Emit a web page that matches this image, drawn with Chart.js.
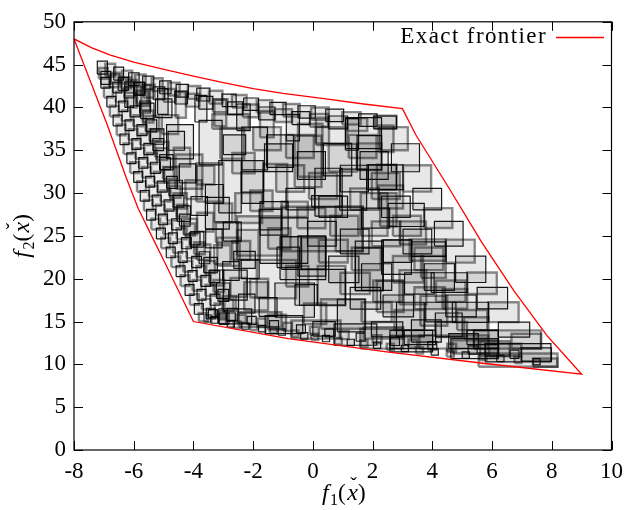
<!DOCTYPE html>
<html>
<head>
<meta charset="utf-8">
<script src="https://cdn.jsdelivr.net/npm/chart.js@4.4.0/dist/chart.umd.min.js"></script>
<style>
  html, body { margin: 0; padding: 0; background: #fff; }
</style>
</head>
<body>
<canvas id="frontierChart" width="631" height="510"></canvas>
<script>
const SERIF = "'Liberation Serif'";

const xTicks = [-8, -6, -4, -2, 0, 2, 4, 6, 8, 10];
const yTicks = [0, 5, 10, 15, 20, 25, 30, 35, 40, 45, 50];

// exact frontier, walked round: left edge, bottom, right edge, top
const frontierX = [-8, -6.9, -6.25, -5.85, -5.4, -4.96, -4, -0.83, 2.47, 5.77, 9,
  7.84, 6.74, 5.64, 4.54, 3.44, 3, 1.7, 0.43, -1.0, -2.0, -3.0, -4.0, -5.13, -6.0, -6.78, -7.4, -8];
const frontierY = [48, 38.1, 31.8, 28.2, 25.0, 21.9, 15, 13.0, 11.46, 10.1, 8.85,
  13.36, 18.55, 24.33, 30.68, 36.84, 39.85, 40.4, 41.0, 41.65, 42.2, 42.9, 43.65, 44.55, 45.3, 46.1, 46.95, 48];

// boxes as [xmin, xmax, ymin, ymax]
const topRowBoxes = [
  [-7.22,-6.88,43.9,45.4], [-6.95,-6.62,43.6,45.1], [-6.67,-6.34,43.2,44.7], [-6.39,-6.05,42.8,44.3],
  [-6.17,-5.82,42.55,44.05], [-5.95,-5.6,42.35,43.85], [-5.7,-5.33,42.15,43.65], [-5.4,-5.03,41.9,43.4],
  [-5.13,-4.75,41.6,43.1], [-4.85,-4.46,41.4,42.9], [-4.58,-4.17,41.2,42.7], [-4.19,-3.77,41.0,42.5],
  [-3.89,-3.45,40.75,42.25], [-3.48,-3.03,40.45,41.95], [-3.04,-2.57,40.1,41.55], [-2.71,-2.22,40.0,41.45],
  [-2.32,-1.82,39.65,41.1], [-1.88,-1.36,39.4,40.85], [-1.44,-0.9,39.15,40.6], [-1.0,-0.44,38.95,40.4],
  [-0.5,0.08,38.75,40.2], [-0.06,0.53,38.55,40.0], [0.43,1.03,38.35,39.8], [0.98,1.6,38.0,39.45],
  [1.53,2.15,37.8,39.25], [2.08,2.8,37.55,39.05]
];

const secondRowBoxes = [
  [-7.1,-6.77,42.7,44.2], [-6.82,-6.48,42.35,43.85], [-6.52,-6.18,42.0,43.5], [-6.25,-5.9,41.7,43.2],
  [-5.98,-5.62,41.4,42.9], [-5.68,-5.3,41.15,42.65], [-5.35,-4.96,40.9,42.4], [-5.0,-4.6,40.65,42.15],
  [-4.62,-4.2,40.4,41.9], [-4.25,-3.8,40.1,41.6], [-3.82,-3.35,39.8,41.3], [-3.35,-2.86,39.45,40.95],
  [-2.86,-2.35,39.15,40.65], [-2.35,-1.82,38.85,40.35], [-1.82,-1.27,38.55,40.05], [-1.27,-0.7,38.3,39.8],
  [-0.7,-0.1,38.0,39.5], [-0.1,0.52,37.75,39.25], [0.52,1.16,37.5,39.0], [1.16,1.82,37.25,38.75]
];

const thirdRowBoxes = [
  [-6.3,-6.0,40.0,43.0], [-5.75,-5.45,39.6,42.6], [-5.2,-4.85,39.2,42.2], [-4.6,-4.25,38.8,41.8],
  [-3.95,-3.55,38.3,41.4], [-3.3,-2.9,37.8,40.9], [-2.55,-2.1,37.3,40.4], [-1.77,-1.31,36.5,39.6],
  [-0.89,-0.45,36.1,39.2], [0.1,0.54,35.8,38.8], [1.09,1.53,35.0,38.7], [2.2,2.7,34.8,37.9]
];

const leftColumnA = [
  [-7.17,-6.87,43.35,44.6], [-7.1,-6.8,42.25,43.5], [-7.0,-6.7,41.15,42.4], [-6.9,-6.6,40.05,41.3],
  [-6.8,-6.5,38.95,40.2], [-6.69,-6.39,37.85,39.1], [-6.57,-6.27,36.75,38.0], [-6.46,-6.16,35.65,36.9],
  [-6.34,-6.04,34.55,35.8], [-6.23,-5.93,33.45,34.7], [-6.12,-5.82,32.35,33.6], [-6.0,-5.7,31.25,32.5],
  [-5.89,-5.59,30.15,31.4], [-5.78,-5.48,29.05,30.3], [-5.66,-5.36,27.95,29.2], [-5.57,-5.27,26.85,28.1],
  [-5.41,-5.11,25.75,27.0], [-5.24,-4.94,24.65,25.9], [-5.08,-4.78,23.55,24.8], [-4.91,-4.61,22.45,23.7],
  [-4.74,-4.44,21.35,22.6], [-4.58,-4.28,20.25,21.5], [-4.43,-4.13,19.15,20.4], [-4.28,-3.98,18.05,19.3],
  [-4.12,-3.82,16.95,18.2], [-3.97,-3.67,15.85,17.1], [-3.82,-3.52,15.0,16.0]
];

const leftColumnB = [
  [-6.77,-6.47,42.8,44.05], [-6.7,-6.4,41.7,42.95], [-6.6,-6.3,40.6,41.85], [-6.5,-6.2,39.5,40.75],
  [-6.4,-6.1,38.4,39.65], [-6.29,-5.99,37.3,38.55], [-6.17,-5.87,36.2,37.45], [-6.06,-5.76,35.1,36.35],
  [-5.94,-5.64,34.0,35.25], [-5.83,-5.53,32.9,34.15], [-5.72,-5.42,31.8,33.05], [-5.6,-5.3,30.7,31.95],
  [-5.49,-5.19,29.6,30.85], [-5.38,-5.08,28.5,29.75], [-5.26,-4.96,27.4,28.65], [-5.17,-4.87,26.3,27.55],
  [-5.01,-4.71,25.2,26.45], [-4.84,-4.54,24.1,25.35], [-4.68,-4.38,23.0,24.25], [-4.51,-4.21,21.9,23.15],
  [-4.34,-4.04,20.8,22.05], [-4.18,-3.88,19.7,20.95], [-4.03,-3.73,18.6,19.85], [-3.88,-3.58,17.5,18.75],
  [-3.72,-3.42,16.4,17.65], [-3.57,-3.27,15.3,16.55]
];

const leftColumnC = [
  [-6.42,-6.09,42.2,43.5], [-6.32,-5.99,41.1,42.4], [-6.22,-5.89,40.0,41.3], [-6.12,-5.79,38.9,40.2],
  [-6.01,-5.68,37.8,39.1], [-5.89,-5.56,36.7,38.0], [-5.78,-5.45,35.6,36.9], [-5.66,-5.33,34.5,35.8],
  [-5.55,-5.22,33.4,34.7], [-5.44,-5.11,32.3,33.6], [-5.32,-4.99,31.2,32.5], [-5.21,-4.88,30.1,31.4],
  [-5.1,-4.77,29.0,30.3], [-4.98,-4.65,27.9,29.2], [-4.89,-4.56,26.8,28.1], [-4.73,-4.4,25.7,27.0],
  [-4.56,-4.23,24.6,25.9], [-4.4,-4.07,23.5,24.8], [-4.23,-3.9,22.4,23.7], [-4.06,-3.73,21.3,22.6],
  [-3.9,-3.57,20.2,21.5], [-3.75,-3.42,19.1,20.4], [-3.6,-3.27,18.0,19.3], [-3.44,-3.11,16.9,18.2],
  [-3.29,-2.96,15.8,17.1], [-3.14,-2.81,14.7,16.0]
];

const leftColumnD = [
  [-6.0,-5.64,41.55,42.95], [-5.9,-5.54,40.45,41.85], [-5.8,-5.44,39.35,40.75], [-5.7,-5.34,38.25,39.65],
  [-5.59,-5.23,37.15,38.55], [-5.47,-5.11,36.05,37.45], [-5.36,-5.0,34.95,36.35], [-5.24,-4.88,33.85,35.25],
  [-5.13,-4.77,32.75,34.15], [-5.02,-4.66,31.65,33.05], [-4.9,-4.54,30.55,31.95], [-4.79,-4.43,29.45,30.85],
  [-4.68,-4.32,28.35,29.75], [-4.56,-4.2,27.25,28.65], [-4.47,-4.11,26.15,27.55], [-4.31,-3.95,25.05,26.45],
  [-4.14,-3.78,23.95,25.35], [-3.98,-3.62,22.85,24.25], [-3.81,-3.45,21.75,23.15], [-3.64,-3.28,20.65,22.05],
  [-3.48,-3.12,19.55,20.95], [-3.33,-2.97,18.45,19.85], [-3.18,-2.82,17.35,18.75], [-3.02,-2.66,16.25,17.65],
  [-2.87,-2.51,15.15,16.55]
];

const leftColumnE = [
  [-5.93,-5.48,40.2,42.0], [-5.77,-5.32,38.7,40.5], [-5.6,-5.15,37.2,39.0], [-5.44,-4.99,35.7,37.5],
  [-5.28,-4.83,34.2,36.0], [-5.13,-4.68,32.7,34.5], [-4.98,-4.53,31.2,33.0], [-4.82,-4.37,29.7,31.5],
  [-4.67,-4.22,28.2,30.0], [-4.55,-4.1,26.7,28.5], [-4.33,-3.88,25.2,27.0], [-4.1,-3.65,23.7,25.5],
  [-3.88,-3.43,22.2,24.0], [-3.65,-3.2,20.7,22.5], [-3.44,-2.99,19.2,21.0], [-3.23,-2.78,17.7,19.5],
  [-3.02,-2.57,16.2,18.0]
];

const leftColumnF = [
  [-5.27,-4.72,38.8,41.0], [-5.06,-4.51,36.9,39.1], [-4.85,-4.3,35.0,37.2], [-4.66,-4.11,33.1,35.3],
  [-4.47,-3.92,31.2,33.4], [-4.27,-3.72,29.3,31.5], [-4.08,-3.53,27.4,29.6], [-3.88,-3.33,25.5,27.7],
  [-3.59,-3.04,23.6,25.8], [-3.31,-2.76,21.7,23.9], [-3.02,-2.47,19.8,22.0], [-2.76,-2.21,17.9,20.1],
  [-2.49,-1.94,16.0,18.2]
];

const bottomRowA = [
  [-3.64,-3.4,14.95,15.75], [-3.42,-3.18,14.8,15.6], [-3.15,-2.91,14.7,15.5], [-2.87,-2.63,14.35,15.1],
  [-2.65,-2.41,14.25,15.0], [-2.38,-2.14,14.1,14.85], [-2.1,-1.86,13.99,14.74], [-1.82,-1.58,13.8,14.55],
  [-1.44,-1.2,13.6,14.35], [-1.16,-0.92,13.4,14.15], [-0.72,-0.48,13.22,13.97], [-0.41,-0.17,12.95,13.7],
  [-0.06,0.18,12.83,13.58], [0.32,0.56,12.64,13.39], [0.73,0.97,12.33,13.08], [1.15,1.39,12.18,12.93],
  [1.59,1.83,12.06,12.81], [2.03,2.27,11.85,12.6], [2.47,2.71,11.67,12.42], [2.96,3.2,11.48,12.23],
  [3.45,3.69,11.25,12.0], [3.96,4.2,11.09,11.84], [4.48,4.72,10.9,11.65], [5.0,5.24,10.71,11.46],
  [5.58,5.82,10.5,11.25], [6.16,6.4,10.32,11.07], [6.75,6.99,10.15,10.9], [7.37,7.61,9.93,10.68]
];

const bottomRowB = [
  [-3.5,-3.2,15.45,16.4], [-3.2,-2.9,15.25,16.2], [-2.9,-2.6,15.05,16.0], [-2.55,-2.25,14.85,15.8],
  [-2.2,-1.9,14.65,15.6], [-1.85,-1.55,14.4,15.35], [-1.45,-1.15,14.15,15.1], [-1.0,-0.7,13.9,14.85],
  [-0.55,-0.25,13.65,14.6], [-0.1,0.2,13.45,14.4], [0.4,0.7,13.2,14.15], [0.9,1.2,12.95,13.9],
  [1.45,1.75,12.7,13.65], [2.0,2.3,12.45,13.4], [2.6,2.9,12.2,13.15], [3.2,3.5,11.95,12.9],
  [3.85,4.15,11.7,12.65], [4.5,4.8,11.45,12.4], [5.2,5.5,11.2,12.15], [5.9,6.2,10.95,11.9],
  [6.6,6.9,10.7,11.65]
];

const bottomWideBoxes = [
  [-3.15,-2.05,14.73,16.47], [-2.48,-1.05,14.35,16.1], [-1.6,-0.34,13.58,15.7], [-0.72,0.93,13.0,15.12],
  [0.71,2.14,12.23,14.73], [1.59,3.02,11.84,14.15], [2.58,4.01,11.46,13.97], [3.57,5.88,11.84,13.39],
  [4.62,6.21,10.68,13.0], [5.39,7.64,11.84,13.97], [5.77,7.97,10.3,12.42], [5.55,8.19,9.72,11.26]
];

const rightChainBoxes = [
  [2.03,2.8,37.5,39.0], [2.25,3.18,35.0,37.7], [2.63,3.57,32.49,35.76], [3.02,3.96,30.17,33.25],
  [3.35,4.31,28.05,30.56], [3.73,4.67,25.93,28.24], [4.07,5.03,23.81,26.7], [4.45,5.42,21.88,24.57],
  [4.78,5.79,19.56,22.65], [5.17,6.16,18.21,20.72], [5.5,6.52,16.47,18.98], [5.88,6.89,14.93,17.25],
  [6.21,7.26,13.19,14.93], [6.65,7.64,11.84,13.58], [6.98,7.99,10.38,11.92], [7.37,8.19,9.72,10.68]
];

const chainBoxes2 = [
  [1.2,2.13,34.1,36.8], [1.58,2.52,31.6,34.85], [1.97,2.91,29.3,32.35], [2.3,3.26,27.15,29.65],
  [2.68,3.62,25.0,27.35], [3.02,3.98,22.9,25.8], [3.4,4.37,21.0,23.65], [3.73,4.74,18.65,21.75],
  [4.12,5.11,17.3,19.8], [4.45,5.47,15.55,18.1], [4.83,5.84,14.0,16.35], [5.16,6.21,12.3,14.0],
  [5.6,6.59,10.95,12.7]
];

const chainBoxes3 = [
  [0.53,1.47,32.5,35.75], [0.92,1.86,30.15,33.25], [1.25,2.21,28.05,30.55], [1.63,2.57,25.9,28.25],
  [1.97,2.93,23.8,26.7], [2.35,3.32,21.9,24.55], [2.68,3.69,19.55,22.65], [3.07,4.06,18.2,20.7],
  [3.4,4.42,16.45,19.0], [3.78,4.79,14.95,17.25], [4.11,5.16,13.2,14.95], [4.55,5.54,11.85,13.6]
];

const chainBoxes4 = [
  [-0.9,0.03,34.1,36.8], [-0.52,0.42,31.6,34.85], [-0.13,0.81,29.3,32.35], [0.2,1.16,27.15,29.65],
  [0.58,1.52,25.0,27.35], [0.92,1.88,22.9,25.8], [1.3,2.27,21.0,23.65], [1.63,2.64,18.65,21.75],
  [2.02,3.01,17.3,19.8], [2.35,3.37,15.55,18.1], [2.73,3.74,14.0,16.35], [3.06,4.11,12.3,14.0]
];

const chainBoxes5 = [
  [-2.0,-1.07,35.0,37.7], [-1.62,-0.68,32.5,35.75], [-1.23,-0.29,30.15,33.25], [-0.9,0.06,28.05,30.55],
  [-0.52,0.42,25.9,28.25], [-0.18,0.78,23.8,26.7], [0.2,1.17,21.9,24.55], [0.53,1.54,19.55,22.65],
  [0.92,1.91,18.2,20.7], [1.25,2.27,16.45,19.0], [1.63,2.64,14.95,17.25], [1.96,3.01,13.2,14.95]
];

const chainBoxes6 = [
  [-3.0,-2.25,34.5,36.8], [-2.7,-1.95,32.3,34.7], [-2.4,-1.65,30.1,32.5], [-2.1,-1.35,27.9,30.3],
  [-1.8,-1.05,25.7,28.1], [-1.5,-0.75,23.5,25.9], [-1.2,-0.45,21.3,23.7], [-0.9,-0.15,19.1,21.5],
  [-0.6,0.15,16.9,19.3], [-0.3,0.45,14.7,17.1], [0.0,0.75,13.3,15.0]
];

const chainBoxes7 = [
  [-3.9,-3.3,31.0,33.2], [-3.6,-3.0,28.8,31.0], [-3.3,-2.7,26.6,28.8], [-3.0,-2.4,24.4,26.6],
  [-2.7,-2.1,22.2,24.4], [-2.4,-1.8,20.0,22.2], [-2.1,-1.5,17.8,20.0], [-1.8,-1.2,15.6,17.8],
  [-1.5,-0.9,14.0,15.8]
];

const innerBoxes = [
  [-0.61,0.29,30.7,36.7], [0.07,0.98,27.3,32.9], [0.76,1.67,23.2,28.4], [1.42,2.34,18.6,23.6],
  [-1.05,1.67,23.2,28.4], [-2.38,-1.66,28.8,33.8], [-1.66,-0.86,28.2,33.4], [-3.15,-2.4,27.7,33.8],
  [2.14,2.8,30.4,33.3], [1.48,2.3,32.7,36.7], [0.1,1.15,35.6,37.7], [-2.38,-1.52,32.7,37.7],
  [-3.37,-2.15,37.5,39.2], [-3.81,-3.04,33.3,38.5], [-2.54,-1.05,22.7,27.3], [-1.77,-0.17,21.8,27.1],
  [-0.39,0.43,21.1,24.8], [-1.05,-0.39,21.1,24.9], [2.25,2.8,26.1,30.0], [1.86,2.8,30.4,33.3],
  [2.14,3.04,16.1,19.75], [2.8,3.73,13.2,17.25], [2.91,3.79,24.0,26.7], [3.3,4.45,22.6,24.3],
  [3.62,4.45,20.1,22.65], [-0.45,1.09,16.9,21.1], [0.27,1.75,14.15,17.6], [-1.1,0.43,19.9,24.9],
  [-1.88,-0.56,17.7,22.2], [-1.27,0.05,15.5,19.5], [-2.54,-1.82,22.2,25.7], [-2.65,-1.93,21.2,23.2],
  [-3.25,-2.51,24.2,26.6], [-1.77,-0.83,25.1,29.0], [-1.05,-0.17,27.2,29.0], [-0.04,0.98,28.4,29.7],
  [-0.5,0.32,31.9,38.1], [1.09,2.3,35.2,38.8], [1.48,2.3,32.7,35.8], [1.81,3.02,30.4,33.3],
  [2.19,3.02,28.2,30.9], [2.52,3.73,26.1,28.8], [3.24,4.45,22.1,24.6], [3.96,5.17,18.4,20.7],
  [4.34,5.17,16.5,18.8], [4.67,5.88,14.9,17.25], [5.06,5.88,13.0,15.5], [5.39,6.21,11.84,13.97],
  [5.77,6.98,11.0,12.4], [-0.5,0.43,20.3,25.0], [0.16,1.09,16.9,21.5], [0.82,1.75,13.8,17.6],
  [1.7,3.02,13.0,14.35], [2.58,4.01,11.84,13.4], [4.67,6.21,11.26,12.8], [1.42,2.36,18.6,24.4],
  [3.6,4.5,14.5,18.0], [3.3,4.3,12.6,15.2], [-2.3,-1.5,16.3,19.6], [-3.0,-2.2,17.5,21.0],
  [-3.2,-2.45,21.5,24.8], [-3.6,-2.8,25.8,29.5], [-4.6,-3.7,30.5,34.5], [-4.9,-4.0,34.0,38.0],
  [-3.9,-3.0,29.0,33.5], [-1.55,-0.65,33.0,36.8], [-3.1,-2.3,34.0,37.6], [0.9,1.8,28.0,32.8],
  [1.6,2.5,25.0,30.0], [0.35,1.3,32.0,35.8], [-2.6,-1.7,26.5,30.0], [4.1,5.0,13.2,16.0],
  [2.9,3.8,17.0,21.0], [2.3,3.3,20.5,24.5]
];

const boxGroups = [
  innerBoxes, chainBoxes7, chainBoxes6, chainBoxes5, chainBoxes4, chainBoxes3, chainBoxes2,
  rightChainBoxes, bottomWideBoxes, leftColumnF, leftColumnE, thirdRowBoxes,
  leftColumnD, leftColumnC, leftColumnB, leftColumnA, secondRowBoxes, topRowBoxes, bottomRowB, bottomRowA
];

function boxDataset(b, i) {
  const [x0, x1, y0, y1] = b;
  const soft = i % 2 === 0;
  return {
    label: '',
    data: [{x: x0, y: y0}, {x: x1, y: y0}, {x: x1, y: y1}, {x: x0, y: y1}, {x: x0, y: y0}],
    borderColor: soft ? 'rgba(0,0,0,0.45)' : 'rgba(0,0,0,0.9)',
    borderWidth: soft ? 2.4 : 1.2,
    backgroundColor: 'rgba(0,0,0,0.09)',
    fill: 'shape',
    pointRadius: 0,
    tension: 0
  };
}

const boxDatasets = [];
boxGroups.forEach(group => group.forEach(b => boxDatasets.push(boxDataset(b, boxDatasets.length))));

const frontierDataset = {
  label: 'Exact frontier',
  data: frontierX.map((x, i) => ({x: x, y: frontierY[i]})),
  borderColor: 'rgb(255,0,0)',
  borderWidth: 1.3,
  fill: false,
  pointRadius: 0,
  tension: 0
};

// f_n(x̌) with the right mix of italic and upright pieces
function drawAxisName(c, cx, cy, sub) {
  const parts = [
    ['f', 'italic 24px ' + SERIF, 0],
    [sub, '16px ' + SERIF, 5],
    ['(', '23px ' + SERIF, 0],
    ['x', 'italic 24px ' + SERIF, 0],
    [')', '23px ' + SERIF, 0]
  ];
  let w = 0;
  parts.forEach(p => { c.font = p[1]; p.push(c.measureText(p[0]).width); w += p[3]; });
  w += 3;
  let x = cx - w / 2;
  c.textAlign = 'left';
  c.textBaseline = 'alphabetic';
  c.fillStyle = '#000';
  parts.forEach((p, i) => {
    c.font = p[1];
    const gap = (i === 1 || i === 3) ? 1.5 : 0;
    c.fillText(p[0], x + gap, cy + p[2]);
    if (p[0] === 'x') {
      c.font = '20px ' + SERIF;
      c.textAlign = 'center';
      c.fillText('ˇ', x + gap + p[3] / 2 + 1, cy - 8);
      c.textAlign = 'left';
    }
    x += p[3] + gap;
  });
}

const framePlugin = {
  id: 'frame',
  afterDraw(chart) {
    const c = chart.ctx;
    const a = chart.chartArea;
    const sx = chart.scales.x, sy = chart.scales.y;
    c.save();
    c.strokeStyle = '#000';
    c.lineWidth = 1.2;
    c.strokeRect(a.left, a.top, a.right - a.left, a.bottom - a.top);
    c.lineWidth = 1;
    c.beginPath();
    xTicks.forEach(v => {
      const px = Math.round(sx.getPixelForValue(v)) + 0.5;
      c.moveTo(px, a.bottom); c.lineTo(px, a.bottom - 9);
      c.moveTo(px, a.top); c.lineTo(px, a.top + 9);
    });
    yTicks.forEach(v => {
      const py = Math.round(sy.getPixelForValue(v)) + 0.5;
      c.moveTo(a.left, py); c.lineTo(a.left + 9, py);
      c.moveTo(a.right, py); c.lineTo(a.right - 9, py);
    });
    c.stroke();

    // key, text first and line sample after it
    c.font = '23px ' + SERIF;
    if ('letterSpacing' in c) c.letterSpacing = '1.4px';
    c.fillStyle = '#000';
    c.textAlign = 'right';
    c.textBaseline = 'middle';
    c.fillText(frontierDataset.label, 547, 37);
    if ('letterSpacing' in c) c.letterSpacing = '0px';
    c.strokeStyle = frontierDataset.borderColor;
    c.lineWidth = frontierDataset.borderWidth;
    c.beginPath();
    c.moveTo(556, 37.5); c.lineTo(604, 37.5);
    c.stroke();

    drawAxisName(c, (a.left + a.right) / 2 + 1, 500, '1');
    c.translate(29, (a.top + a.bottom) / 2);
    c.rotate(-Math.PI / 2);
    drawAxisName(c, 0, 0, '2');
    c.restore();
  }
};

const ctx = document.getElementById('frontierChart').getContext('2d');
const frontierChart = new Chart(ctx, {
  type: 'line',
  data: { datasets: [frontierDataset].concat(boxDatasets) },
  options: {
    responsive: false,
    animation: false,
    events: [],
    layout: { padding: { top: 17, right: 11, left: 0, bottom: 0 } },
    scales: {
      x: {
        type: 'linear',
        min: -8,
        max: 10,
        afterBuildTicks: s => { s.ticks = xTicks.map(v => ({ value: v })); },
        afterFit: s => { s.height = 60; },
        grid: { display: false, drawTicks: false },
        border: { display: false },
        ticks: { color: '#000', padding: 8, maxRotation: 0, font: { family: SERIF, size: 23 } }
      },
      y: {
        type: 'linear',
        min: 0,
        max: 50,
        afterBuildTicks: s => { s.ticks = yTicks.map(v => ({ value: v })); },
        afterFit: s => { s.width = 74; },
        grid: { display: false, drawTicks: false },
        border: { display: false },
        ticks: { color: '#000', padding: 8, font: { family: SERIF, size: 23 } }
      }
    },
    plugins: {
      legend: { display: false },
      tooltip: { enabled: false },
      filler: { propagate: false }
    }
  },
  plugins: [framePlugin]
});
</script>
</body>
</html>
